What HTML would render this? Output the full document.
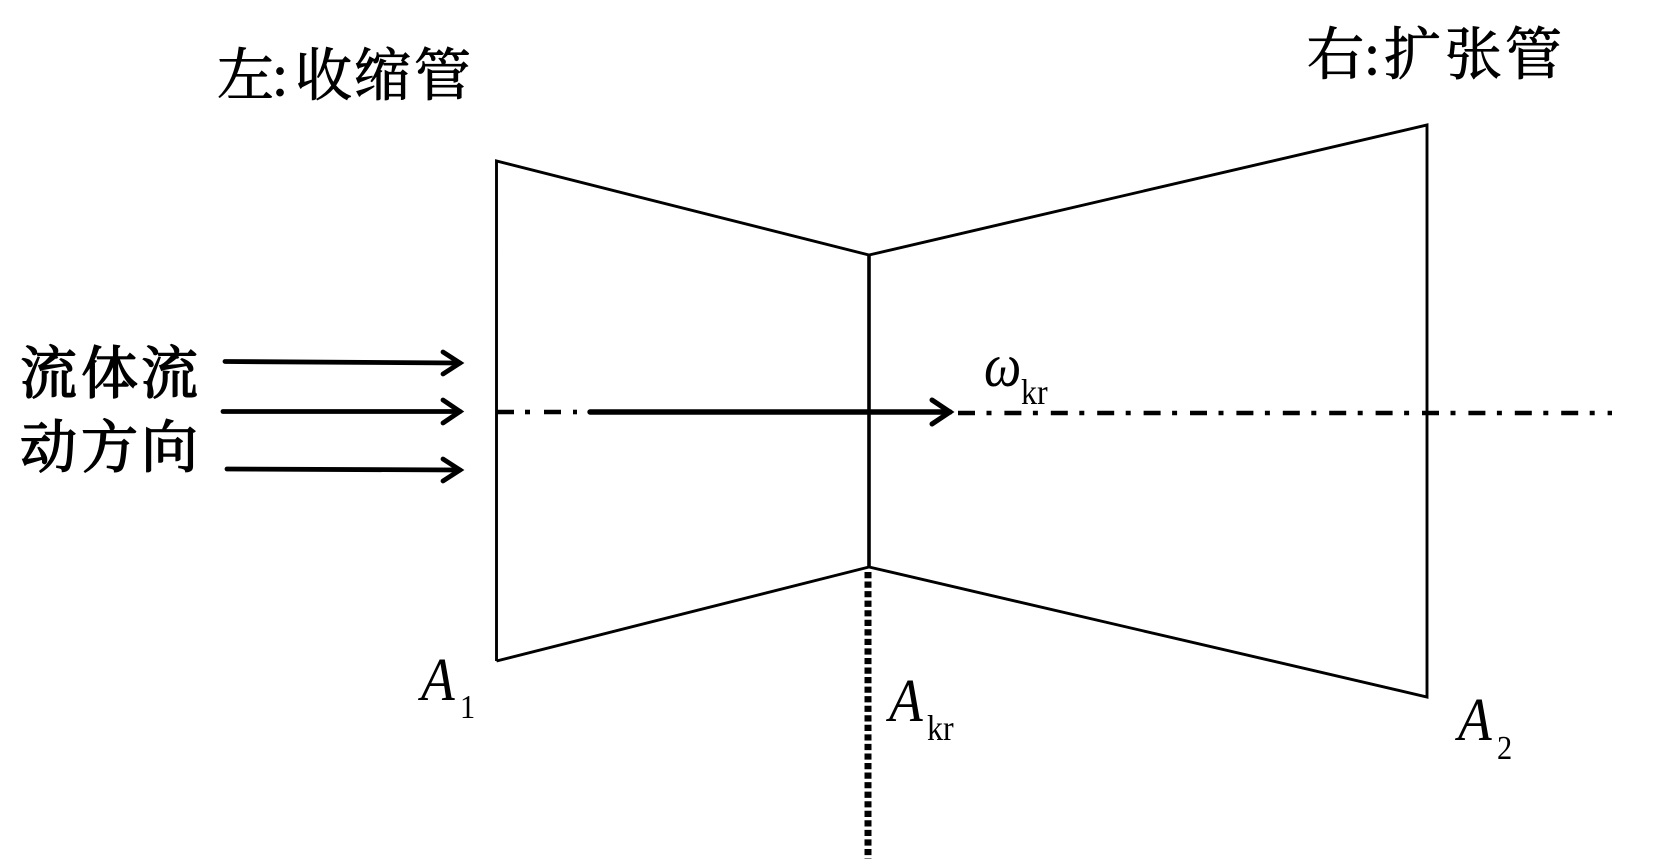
<!DOCTYPE html>
<html><head><meta charset="utf-8"><style>
html,body{margin:0;padding:0;background:#fff;width:1654px;height:861px;overflow:hidden}
svg{display:block}
.cj{font-family:"Liberation Serif","Noto Serif CJK SC",serif}
.it{font-family:"Liberation Serif",serif;font-style:italic}
.rm{font-family:"Liberation Serif",serif}
</style></head><body>
<svg width="1654" height="861" viewBox="0 0 1654 861" xmlns="http://www.w3.org/2000/svg">
<rect width="1654" height="861" fill="#fff"/>
<g fill="none" stroke="#000" stroke-width="2.9" stroke-linejoin="miter">
<polyline points="496.5,661 496.5,161 869,255"/>
<line x1="496.5" y1="661" x2="869" y2="567"/>
<polyline points="869,255 1427,125 1427,697 869,567"/>
<line x1="869" y1="255" x2="869" y2="567" stroke-width="3.6"/>
</g>
<g fill="none" stroke="#000" stroke-width="4.6">
<line x1="497" y1="412" x2="514" y2="412"/>
<line x1="544" y1="412" x2="561" y2="412"/>
<line x1="525" y1="412" x2="530" y2="412"/>
<line x1="573" y1="412" x2="577" y2="412"/>
<line x1="958" y1="413" x2="1612" y2="413" stroke-dasharray="17 11.5 5 12.9"/>
</g>
<g fill="none" stroke="#000" stroke-width="4.8" stroke-linecap="round">
<line x1="590" y1="412" x2="950" y2="412" stroke-width="5.4"/>
<polyline points="932,400 950,412 932,424" stroke-width="5"/>
<line x1="225" y1="361.5" x2="460" y2="363"/>
<polyline points="443,352 460,363 443,374"/>
<line x1="223" y1="411.5" x2="460" y2="411.5"/>
<polyline points="443,400 460,411.5 443,423"/>
<line x1="227" y1="469" x2="460" y2="470"/>
<polyline points="443,459 460,470 443,481"/>
</g>
<line x1="868" y1="572" x2="868" y2="859" stroke="#000" stroke-width="7" stroke-dasharray="6.2 3.35"/>
<g class="cj" fill="#000" stroke="#000" stroke-width="0.9" font-size="57">
<text x="217" y="95">左</text>
<text x="295" y="95">收</text>
<text x="354" y="95">缩</text>
<text x="414" y="95">管</text>
<text x="1307" y="74">右</text>
<text x="1384" y="74">扩</text>
<text x="1445" y="74">张</text>
<text x="1505" y="74">管</text>
</g>
<g class="rm" fill="#000" stroke="#000" stroke-width="0.9" font-size="58">
<text x="272" y="95">:</text>
<text x="1364" y="74">:</text>
</g>
<g class="cj" fill="#000" stroke="#000" stroke-width="1.5" font-size="57">
<text x="20" y="393">流</text>
<text x="81" y="393">体</text>
<text x="141" y="393">流</text>
<text x="20" y="467">动</text>
<text x="81" y="467">方</text>
<text x="141" y="467">向</text>
</g>
<g class="it" fill="#000" font-size="60">
<text transform="translate(421,700) scale(.92,1.02)">A</text>
<text transform="translate(889,721) scale(.92,1.02)">A</text>
<text transform="translate(1458,740) scale(.92,1.02)">A</text>
<text transform="translate(984,386) scale(.88,1.02)">ω</text>
</g>
<g class="rm" fill="#000" font-size="32">
<text transform="translate(460,718) scale(.95,1.05)">1</text>
<text transform="translate(1497,759) scale(.95,1.05)">2</text>
<text transform="translate(927,740) scale(1,1.12)">kr</text>
<text transform="translate(1021,404) scale(1,1.12)">kr</text>
</g>
</svg>
</body></html>
